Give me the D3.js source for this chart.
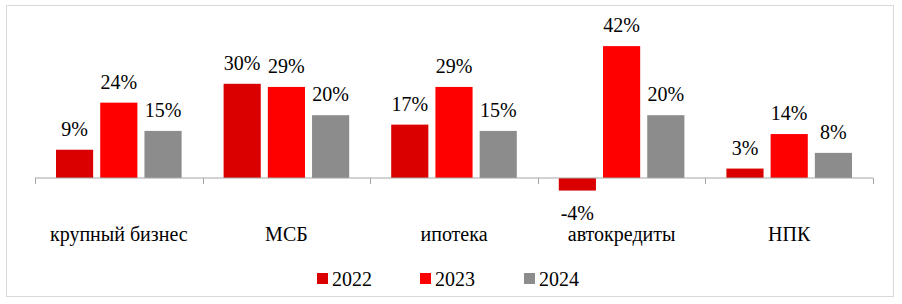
<!DOCTYPE html>
<html>
<head>
<meta charset="utf-8">
<script src="https://cdn.jsdelivr.net/npm/d3@7"></script>
</head>
<body style="margin:0">
<div id="chart"></div>
<script>
// data
var categories = ["крупный бизнес", "МСБ", "ипотека", "автокредиты", "НПК"];
var years = ["2022", "2023", "2024"];
var values2022 = [9, 30, 17, -4, 3];
var values2023 = [24, 29, 29, 42, 14];
var values2024 = [15, 20, 15, 20, 8];
var colors = ["#DA0000", "#FF0000", "#8C8C8C"];

var series = [values2022, values2023, values2024];

var width = 902, height = 304;
var font = "'Liberation Serif', 'Times New Roman', serif";

var svg = d3.select("#chart").append("svg")
    .attr("width", width)
    .attr("height", height);

// outer frame
svg.append("rect")
    .attr("x", 6.5).attr("y", 5.5)
    .attr("width", 887).attr("height", 291)
    .attr("fill", "#fff")
    .attr("stroke", "#D9D9D9")
    .attr("stroke-width", 1);

var x0 = d3.scaleBand()
    .domain(categories)
    .range([35, 873]);

var x1 = d3.scaleBand()
    .domain(years)
    .range([21, x0.bandwidth() - 21])
    .paddingInner(0.16);

var y = d3.scaleLinear()
    .domain([-10, 50])
    .range([209.4, 21]);

// one record per bar
var bars = [];
categories.forEach(function(cat, i){
    years.forEach(function(yr, j){
        bars.push({cat: cat, year: yr, idx: j, value: series[j][i]});
    });
});

svg.selectAll(".bar")
    .data(bars)
    .enter().append("rect")
    .attr("class", "bar")
    .attr("x", function(d){ return x0(d.cat) + x1(d.year); })
    .attr("width", x1.bandwidth())
    .attr("y", function(d){ return y(Math.max(0, d.value)); })
    .attr("height", function(d){ return Math.abs(y(d.value) - y(0)); })
    .attr("fill", function(d){ return colors[d.idx]; });

svg.selectAll(".val")
    .data(bars)
    .enter().append("text")
    .attr("class", "val")
    .attr("x", function(d){ return x0(d.cat) + x1(d.year) + x1.bandwidth() / 2; })
    .attr("y", function(d){ return d.value >= 0 ? y(d.value) - 14 : y(d.value) + 29; })
    .attr("text-anchor", "middle")
    .style("font-family", font)
    .style("font-size", "20px")
    .text(function(d){ return d.value + "%"; });

// axis line, ticks between categories
var axisG = svg.append("g")
    .attr("transform", "translate(0," + y(0) + ")");

axisG.append("line")
    .attr("x1", 35).attr("x2", 873)
    .attr("stroke", "#A6A6A6");

var bounds = categories.map(function(d){ return x0(d); }).concat([x0.range()[1]]);
axisG.selectAll(".tick")
    .data(bounds)
    .enter().append("line")
    .attr("x1", function(d){ return Math.round(d) + 0.5; })
    .attr("x2", function(d){ return Math.round(d) + 0.5; })
    .attr("y1", 0).attr("y2", 6)
    .attr("stroke", "#A6A6A6");

// category labels
svg.selectAll(".cat-label")
    .data(categories)
    .enter().append("text")
    .attr("class", "cat-label")
    .attr("x", function(d){ return x0(d) + x0.bandwidth() / 2; })
    .attr("y", 241)
    .attr("text-anchor", "middle")
    .style("font-family", font)
    .style("font-size", "20px")
    .text(function(d){ return d; });

// legend
var legendX = [317, 420, 524];
svg.selectAll(".legend-key")
    .data(years)
    .enter().append("rect")
    .attr("class", "legend-key")
    .attr("x", function(d, i){ return legendX[i]; })
    .attr("y", 273)
    .attr("width", 11).attr("height", 11)
    .attr("fill", function(d, i){ return colors[i]; });

svg.selectAll(".legend-label")
    .data(years)
    .enter().append("text")
    .attr("class", "legend-label")
    .attr("x", function(d, i){ return legendX[i] + 15; })
    .attr("y", 286)
    .style("font-family", font)
    .style("font-size", "20px")
    .text(function(d){ return d; });
</script>
</body>
</html>
